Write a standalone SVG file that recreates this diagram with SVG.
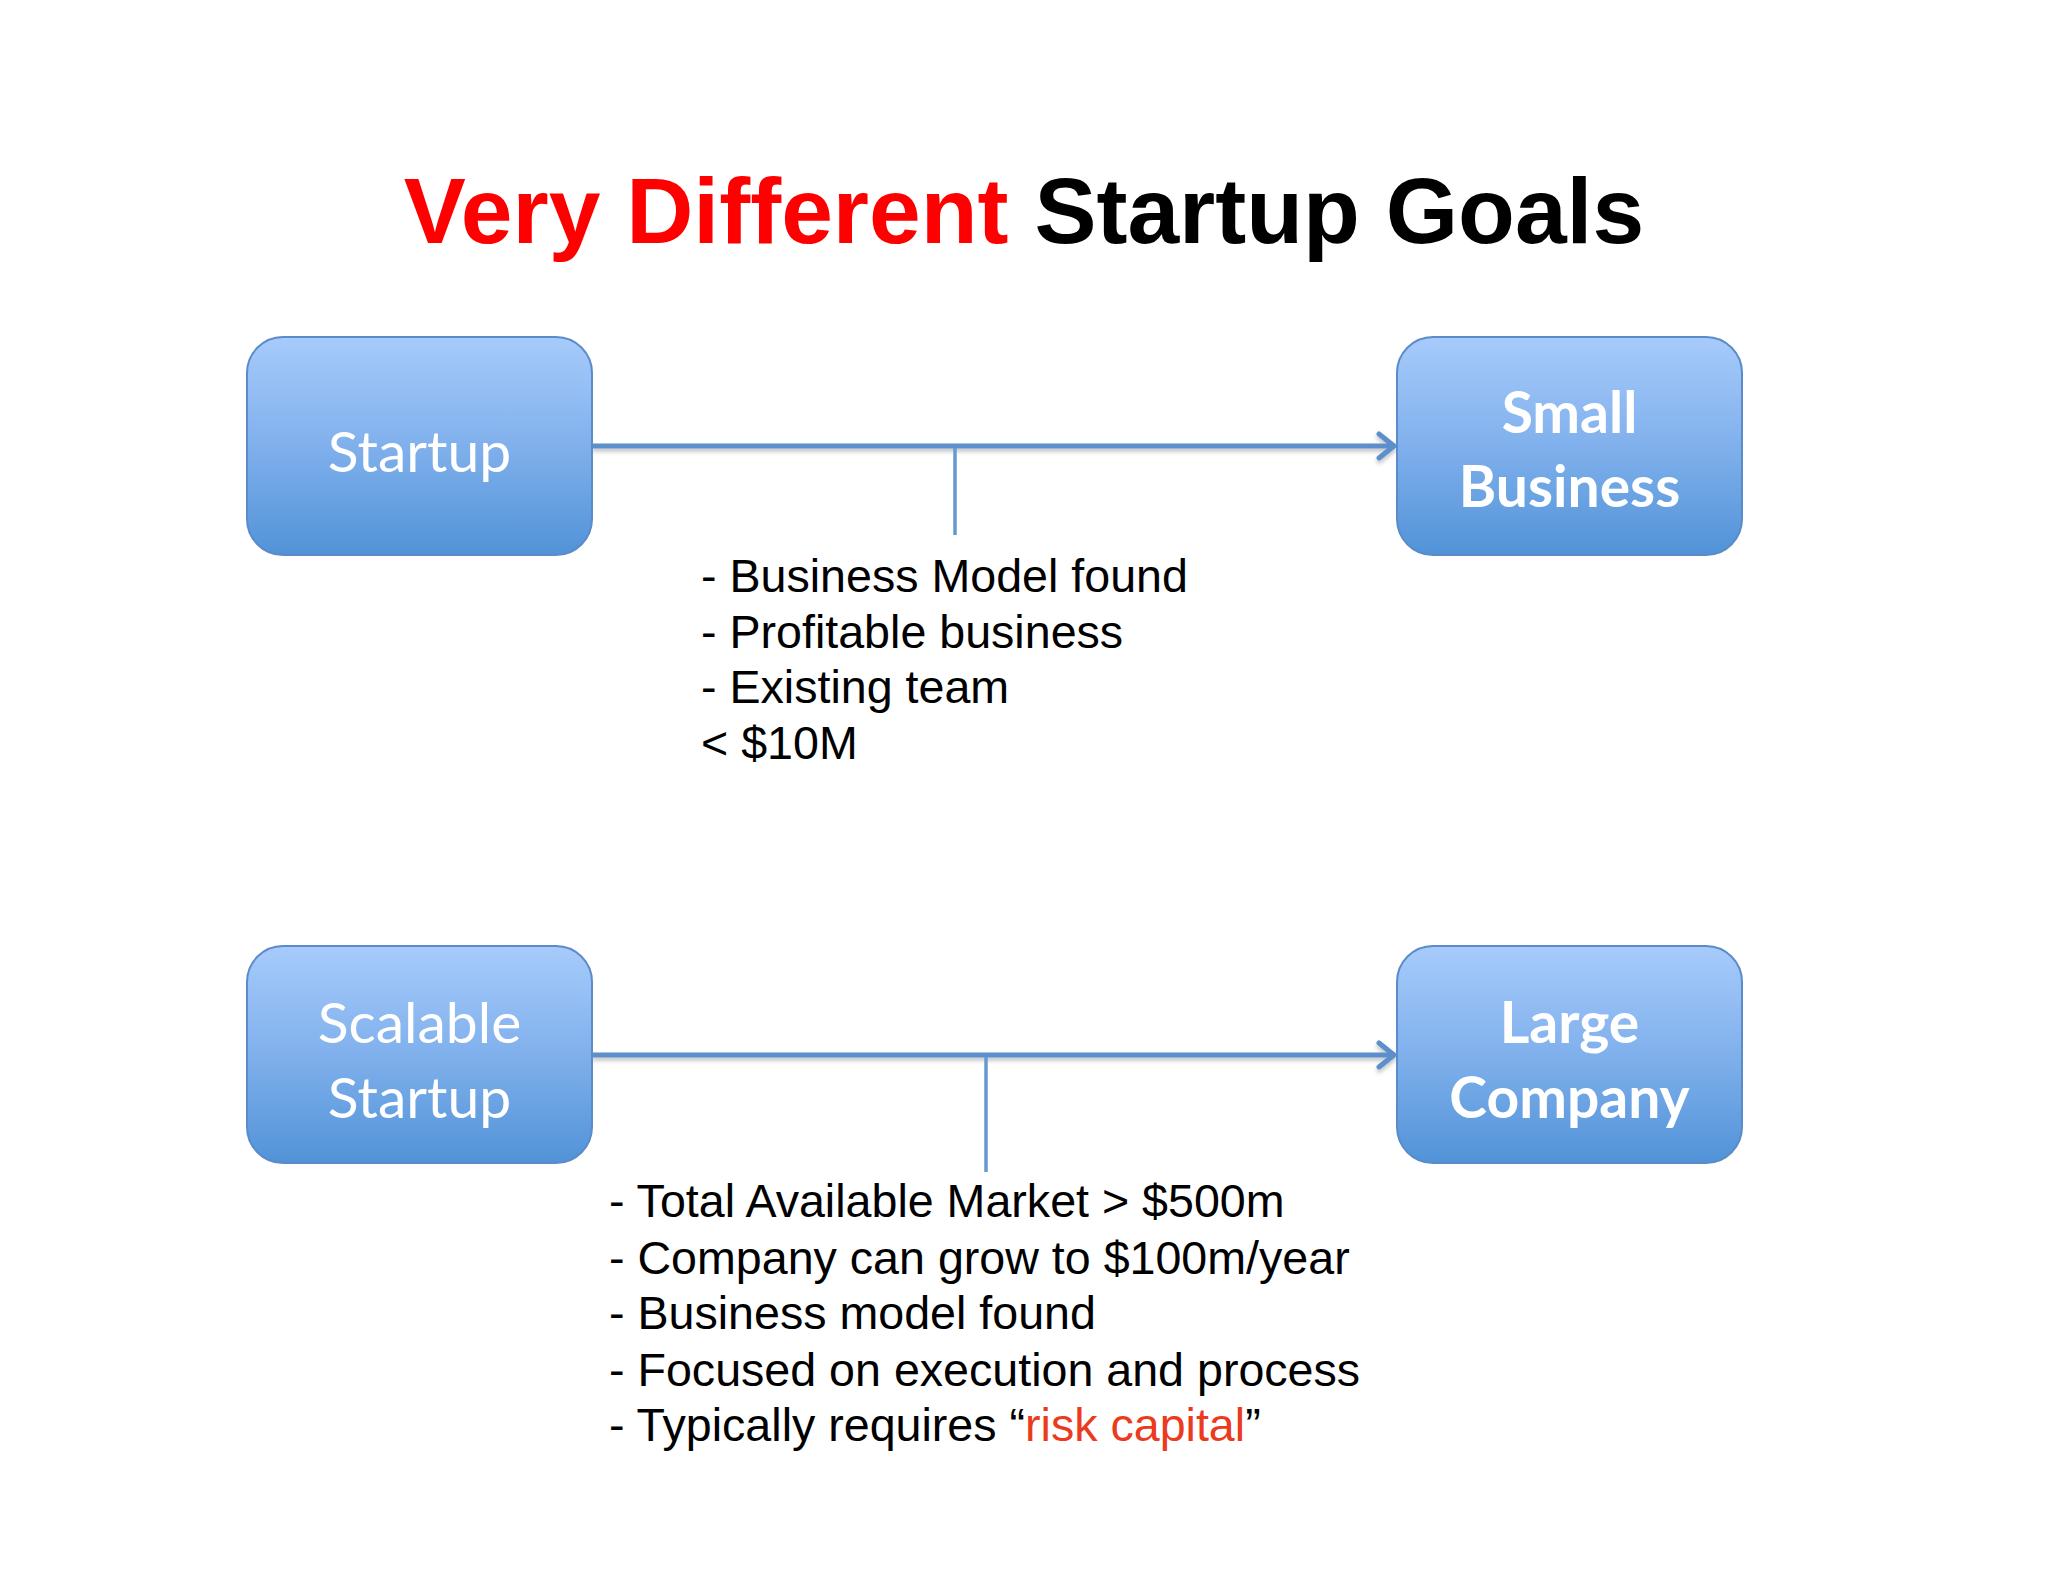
<svg xmlns="http://www.w3.org/2000/svg" width="2048" height="1582" viewBox="0 0 2048 1582">
  <style>
    .box { fill: url(#boxGrad); stroke: #5B8BC9; stroke-width: 2; }
    .lbl { font-family: Lato, "Noto Sans", sans-serif; font-size: 57px; fill: #FFFFFF; text-anchor: middle; }
    .lblb { font-family: Lato, "Noto Sans", sans-serif; font-size: 57px; font-weight: bold; fill: #FFFFFF; text-anchor: middle; }
    .conn { stroke: #5B8FCB; stroke-width: 5; fill: none; }
    .stub { stroke: #6699CF; stroke-width: 3.5; fill: none; }
    .list { font-family: "Liberation Sans", Arial, sans-serif; font-size: 46.6px; fill: #000000; }
    .title { font-family: "Liberation Sans", Arial, sans-serif; font-size: 93px; font-weight: bold; text-anchor: middle; }
  </style>
  <defs>
    <linearGradient id="boxGrad" x1="0" y1="0" x2="0" y2="1">
      <stop offset="0" stop-color="#A7CBFB"/>
      <stop offset="0.5" stop-color="#80B0EC"/>
      <stop offset="1" stop-color="#5193D8"/>
    </linearGradient>
    <filter id="shadow" filterUnits="userSpaceOnUse" x="0" y="0" width="2048" height="1582">
      <feDropShadow dx="0" dy="3" stdDeviation="2" flood-color="#000000" flood-opacity="0.25"/>
    </filter>
    <marker id="openArrow" markerUnits="userSpaceOnUse" markerWidth="30" markerHeight="34" refX="20" refY="15" orient="auto">
      <path d="M4,3 L19,15 L4,27" fill="none" stroke="#5B8FCB" stroke-width="5" stroke-linecap="round" stroke-linejoin="round"/>
    </marker>
  </defs>
  <rect width="2048" height="1582" fill="#FFFFFF"/>

  <text class="title" x="1024" y="243"><tspan fill="#FF0000">Very Different</tspan><tspan fill="#000000"> Startup Goals</tspan></text>

  <g id="connectors">
    <line class="conn" x1="592" y1="446" x2="1395" y2="446" marker-end="url(#openArrow)" filter="url(#shadow)"/>
    <line class="stub" x1="955" y1="448" x2="955" y2="535"/>
    <line class="conn" x1="592" y1="1055" x2="1395" y2="1055" marker-end="url(#openArrow)" filter="url(#shadow)"/>
    <line class="stub" x1="986" y1="1057" x2="986" y2="1172"/>
  </g>

  <g id="node-startup">
    <rect class="box" x="247" y="337" width="345" height="218" rx="36" ry="36"/>
    <text class="lbl" x="419.5" y="472">Startup</text>
  </g>
  <g id="node-small-business">
    <rect class="box" x="1397" y="337" width="345" height="218" rx="36" ry="36"/>
    <text class="lblb" x="1569.5" y="433">Small</text>
    <text class="lblb" x="1569.5" y="507">Business</text>
  </g>
  <g id="node-scalable-startup">
    <rect class="box" x="247" y="946" width="345" height="217" rx="36" ry="36"/>
    <text class="lbl" x="419.5" y="1043">Scalable</text>
    <text class="lbl" x="419.5" y="1118">Startup</text>
  </g>
  <g id="node-large-company">
    <rect class="box" x="1397" y="946" width="345" height="217" rx="36" ry="36"/>
    <text class="lblb" x="1569.5" y="1043">Large</text>
    <text class="lblb" x="1569.5" y="1118">Company</text>
  </g>

  <g id="note-small-business">
    <text class="list" x="701" y="592">- Business Model found</text>
    <text class="list" x="701" y="648">- Profitable business</text>
    <text class="list" x="701" y="703">- Existing team</text>
    <text class="list" x="701" y="759">&lt; $10M</text>
  </g>
  <g id="note-large-company">
    <text class="list" x="609" y="1217">- Total Available Market &gt; $500m</text>
    <text class="list" x="609" y="1274">- Company can grow to $100m/year</text>
    <text class="list" x="609" y="1329">- Business model found</text>
    <text class="list" x="609" y="1386">- Focused on execution and process</text>
    <text class="list" x="609" y="1441">- Typically requires “<tspan fill="#EC3A1C">risk capital</tspan>”</text>
  </g>
</svg>
